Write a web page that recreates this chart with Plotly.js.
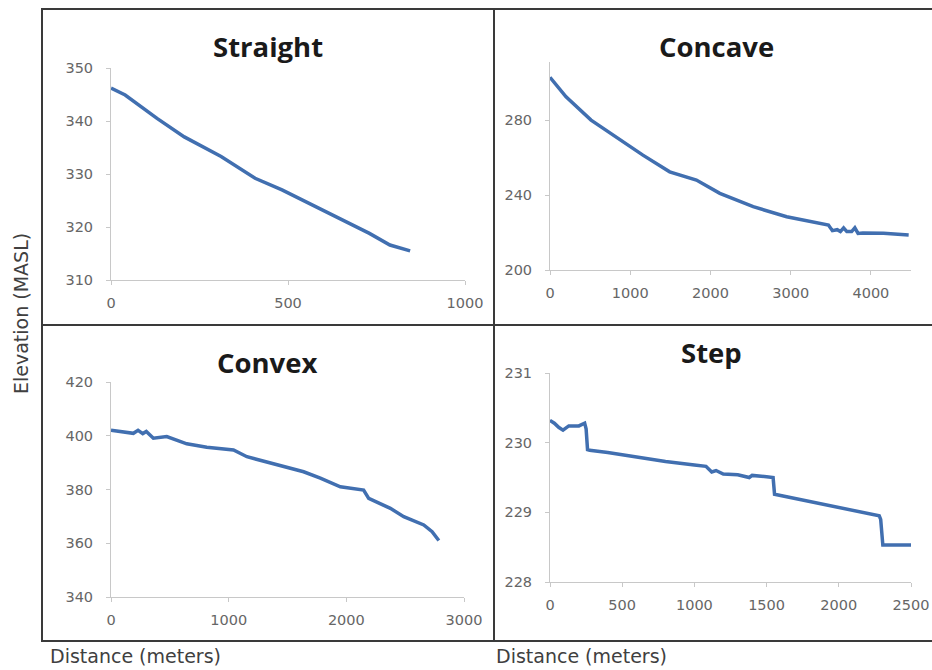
<!DOCTYPE html>
<html>
<head>
<meta charset="utf-8">
<script src="https://cdn.plot.ly/plotly-3.0.1.min.js"></script>
<style>html,body{margin:0;padding:0;background:#fff;}#chart{width:932px;height:670px;}</style>
</head>
<body>
<div id="chart"></div>
<script>
// Straight profile
var straightDist = [0, 40, 130, 207, 311, 407, 483, 540, 654, 730, 788, 845];
var straightElev = [346.2, 344.9, 340.5, 337.0, 333.3, 329.2, 327.0, 325.1, 321.3, 318.8, 316.6, 315.5];

// Concave profile
var concaveDist = [0, 200, 512, 825, 1158, 1492, 1780, 1825, 2117, 2533, 2950, 3242, 3471, 3520, 3580, 3620, 3660, 3700, 3760, 3800, 3840, 3900, 4158, 4471];
var concaveElev = [302.8, 292.4, 280.0, 271.1, 261.3, 252.4, 249.0, 248.0, 240.9, 233.8, 228.4, 225.8, 224.0, 221.0, 221.5, 220.5, 222.5, 220.5, 220.5, 222.5, 219.5, 219.8, 219.6, 218.7];

// Convex profile
var convexDist = [0, 120, 190, 230, 270, 300, 360, 474, 644, 814, 1041, 1155, 1467, 1637, 1779, 1949, 2147, 2190, 2374, 2488, 2658, 2729, 2786];
var convexElev = [402.1, 401.5, 400.9, 402.0, 400.8, 401.6, 399.1, 399.7, 397.0, 395.7, 394.7, 392.2, 388.5, 386.6, 384.2, 381.0, 379.8, 376.7, 373.0, 369.9, 366.8, 364.3, 361.0];

// Step profile
var stepDist = [0, 30, 60, 90, 130, 200, 240, 250, 260, 275, 400, 600, 800, 1000, 1080, 1120, 1150, 1200, 1300, 1380, 1400, 1500, 1545, 1555, 1600, 1800, 2000, 2200, 2280, 2290, 2305, 2400, 2500];
var stepElev = [230.32, 230.28, 230.22, 230.18, 230.24, 230.24, 230.28, 230.2, 229.9, 229.89, 229.86, 229.79, 229.73, 229.68, 229.66, 229.58, 229.6, 229.55, 229.54, 229.5, 229.53, 229.51, 229.5, 229.26, 229.24, 229.16, 229.07, 228.98, 228.95, 228.9, 228.53, 228.53, 228.53];

var panelTitles = ["Straight", "Concave", "Convex", "Step"];
var xTicks = [[0, 500, 1000], [0, 1000, 2000, 3000, 4000], [0, 1000, 2000, 3000], [0, 500, 1000, 1500, 2000, 2500]];
var yTicks = [[310, 320, 330, 340, 350], [200, 240, 280], [340, 360, 380, 400, 420], [228, 229, 230, 231]];
var xTitleText = "Distance (meters)";
var yTitleText = "Elevation (MASL)";

var W = 932, H = 670;
function fx(px){ return px / W; }
function fy(py){ return 1 - py / H; }

var lineColor = '#416fb0';
var dists = [straightDist, concaveDist, convexDist, stepDist];
var elevs = [straightElev, concaveElev, convexElev, stepElev];
var traces = [];
for (var i = 0; i < 4; i++) {
  traces.push({
    x: dists[i], y: elevs[i], type: 'scatter', mode: 'lines',
    line: {color: lineColor, width: 3.5},
    xaxis: 'x' + (i === 0 ? '' : (i + 1)),
    yaxis: 'y' + (i === 0 ? '' : (i + 1)),
    hoverinfo: 'x+y'
  });
}

var tickFont = {family: 'DejaVu Sans, sans-serif', size: 14.5, color: '#666666'};
function axis(extra) {
  var a = {
    showline: true, linecolor: '#c8c8c8', linewidth: 1,
    ticks: 'outside', ticklen: 4, tickcolor: '#c8c8c8',
    showgrid: false, zeroline: false, tickfont: tickFont,
    tickmode: 'array', fixedrange: true
  };
  for (var k in extra) a[k] = extra[k];
  return a;
}

var boxes = [
  {x0: 111, x1: 465, y0: 280, y1: 68, xr: [0, 1000], yr: [310, 350]},
  {x0: 550, x1: 911, y0: 270, y1: 62, xr: [0, 4500], yr: [200, 311]},
  {x0: 111, x1: 464, y0: 597, y1: 382, xr: [0, 3000], yr: [340, 420]},
  {x0: 550, x1: 911, y0: 582, y1: 373, xr: [0, 2500], yr: [228, 231]}
];

var layout = {
  width: W, height: H,
  margin: {l: 0, r: 0, t: 0, b: 0},
  paper_bgcolor: '#ffffff', plot_bgcolor: 'rgba(0,0,0,0)',
  showlegend: false,
  annotations: [], shapes: []
};

for (var i = 0; i < 4; i++) {
  var b = boxes[i];
  var sx = (i === 0 ? '' : (i + 1));
  layout['xaxis' + sx] = axis({
    domain: [fx(b.x0), fx(b.x1)], range: b.xr, anchor: 'y' + sx,
    tickvals: xTicks[i], ticktext: xTicks[i].map(String), ticklabelstandoff: 6
  });
  layout['yaxis' + sx] = axis({
    domain: [fy(b.y0), fy(b.y1)], range: b.yr, anchor: 'x' + sx,
    tickvals: yTicks[i], ticktext: yTicks[i].map(String), ticklabelstandoff: 10
  });
}

var titlePos = [[268, 46], [716, 46], [267, 362], [711, 352]];
for (var i = 0; i < 4; i++) {
  layout.annotations.push({
    text: '<b>' + panelTitles[i] + '</b>', xref: 'paper', yref: 'paper',
    x: fx(titlePos[i][0]), y: fy(titlePos[i][1]), xanchor: 'center', yanchor: 'middle',
    showarrow: false, font: {family: 'Open Sans, Noto Sans, sans-serif', size: 27.5, color: '#1a1a1a'}
  });
}
var labFont = {family: 'DejaVu Sans, sans-serif', size: 19, color: '#404040'};
layout.annotations.push({text: xTitleText, xref: 'paper', yref: 'paper', x: fx(48), y: fy(656),
  xanchor: 'left', yanchor: 'middle', showarrow: false, font: labFont});
layout.annotations.push({text: xTitleText, xref: 'paper', yref: 'paper', x: fx(494), y: fy(656),
  xanchor: 'left', yanchor: 'middle', showarrow: false, font: labFont});
layout.annotations.push({text: yTitleText, xref: 'paper', yref: 'paper', x: fx(21), y: fy(314),
  xanchor: 'center', yanchor: 'middle', textangle: -90, showarrow: false, font: labFont});

var bc = '#3a3a3a';
layout.shapes.push({type: 'rect', xref: 'paper', yref: 'paper', x0: fx(42), x1: fx(945), y0: fy(641), y1: fy(9), line: {color: bc, width: 2}});
layout.shapes.push({type: 'line', xref: 'paper', yref: 'paper', x0: fx(494), x1: fx(494), y0: fy(641), y1: fy(9), line: {color: bc, width: 2}});
layout.shapes.push({type: 'line', xref: 'paper', yref: 'paper', x0: fx(42), x1: fx(945), y0: fy(325), y1: fy(325), line: {color: bc, width: 2}});

Plotly.newPlot('chart', traces, layout, {displayModeBar: false, staticPlot: true});
</script>
</body>
</html>
